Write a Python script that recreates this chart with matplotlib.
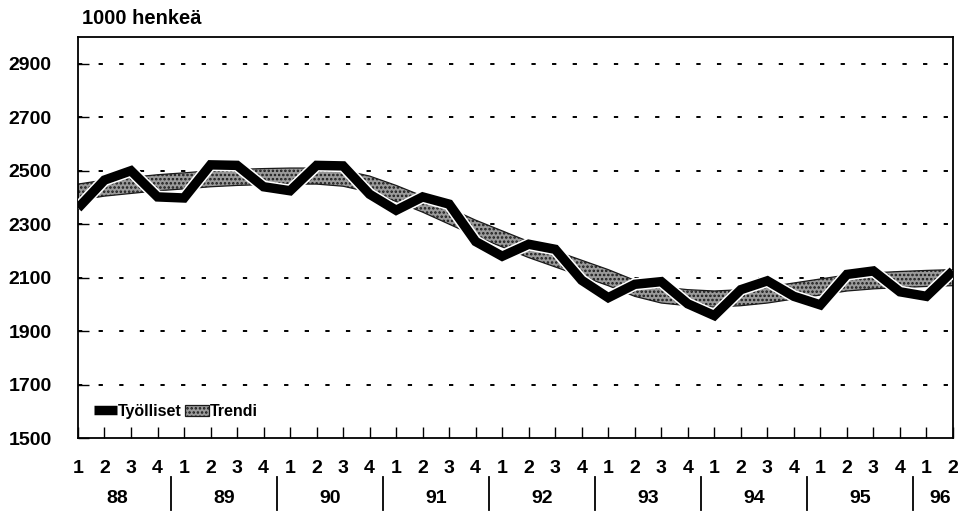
import numpy as np
import matplotlib.pyplot as plt
import matplotlib.patheffects as pe
from matplotlib.transforms import blended_transform_factory

plt.rcParams['font.family'] = ['Liberation Sans', 'DejaVu Sans']
plt.rcParams['font.weight'] = 'bold'
plt.rcParams['hatch.linewidth'] = 1.2

# quarters 1988Q1 .. 1996Q2
quarters = ['1', '2', '3', '4'] * 8 + ['1', '2']
years = ['88', '89', '90', '91', '92', '93', '94', '95', '96']

tyolliset = [2360, 2465, 2500, 2402, 2398, 2522, 2520, 2440, 2425, 2520,
             2518, 2412, 2352, 2402, 2375, 2235, 2180, 2225, 2206, 2090,
             2025, 2075, 2085, 2002, 1958, 2055, 2088, 2030, 1998, 2112,
             2125, 2047, 2030, 2125]
trendi = [2420, 2435, 2445, 2455, 2462, 2470, 2475, 2478, 2480, 2480,
          2472, 2450, 2415, 2375, 2330, 2285, 2245, 2205, 2170, 2135,
          2100, 2060, 2035, 2025, 2020, 2025, 2035, 2050, 2065, 2080,
          2088, 2093, 2097, 2100]

x = np.arange(len(quarters))
trend = np.array(trendi)

fig = plt.figure(figsize=(9.66, 5.15), dpi=100)
ax = fig.add_axes([0.0807, 0.1495, 0.9058, 0.7785])

# trend band
band = ax.fill_between(x, trend - 30, trend + 30, facecolor='#9a9a9a',
                       edgecolor='#1a1a1a', hatch='....', linewidth=0.9,
                       zorder=2, label='Trendi')
line, = ax.plot(x, tyolliset, color='black', linewidth=6.8, solid_joinstyle='miter',
                solid_capstyle='butt', zorder=3, label='Työlliset',
                path_effects=[pe.Stroke(linewidth=9, foreground='white'), pe.Normal()])

ax.set_xlim(0, len(x) - 1)
ax.set_ylim(1500, 3000)
yt = [1500, 1700, 1900, 2100, 2300, 2500, 2700, 2900]
ax.set_yticks(yt)
ax.set_yticklabels([str(v) for v in yt], fontsize=14, fontweight='bold')
for v in yt[1:]:
    ax.axhline(v, color='black', linewidth=1.4, linestyle=(0, (2.2, 8.4)), zorder=1)

ax.set_xticks(x)
ax.set_xticklabels(quarters, fontsize=14, fontweight='bold')
ax.tick_params(axis='x', direction='in', length=8, width=1, pad=16)
ax.tick_params(axis='y', direction='in', length=8, width=1, pad=19)

for s in ax.spines.values():
    s.set_linewidth(1.3)

# year labels and separators below quarter labels
tr = blended_transform_factory(ax.transData, ax.transAxes)
for k, yr in enumerate(years):
    start = 4 * k
    end = min(start + 3, len(x) - 1)
    ax.text((start + end) / 2, -0.152, yr, transform=tr, ha='center',
            va='center', fontsize=14, fontweight='bold')
    if k > 0:
        ax.plot([start - 0.5, start - 0.5], [-0.097, -0.18], transform=tr,
                color='black', linewidth=1.3, clip_on=False)

fig.text(0.085, 0.965, '1000 henkeä', fontsize=14.5, fontweight='bold',
         ha='left', va='center')

ax.legend([line, band], ['Työlliset', 'Trendi'], loc='lower left', ncol=2,
          frameon=False, handlelength=1.5, handletextpad=0.05, columnspacing=0.2,
          fontsize=11.5, borderaxespad=0.3, bbox_to_anchor=(0.005, 0.02))

fig.savefig('out.png', dpi=100)
